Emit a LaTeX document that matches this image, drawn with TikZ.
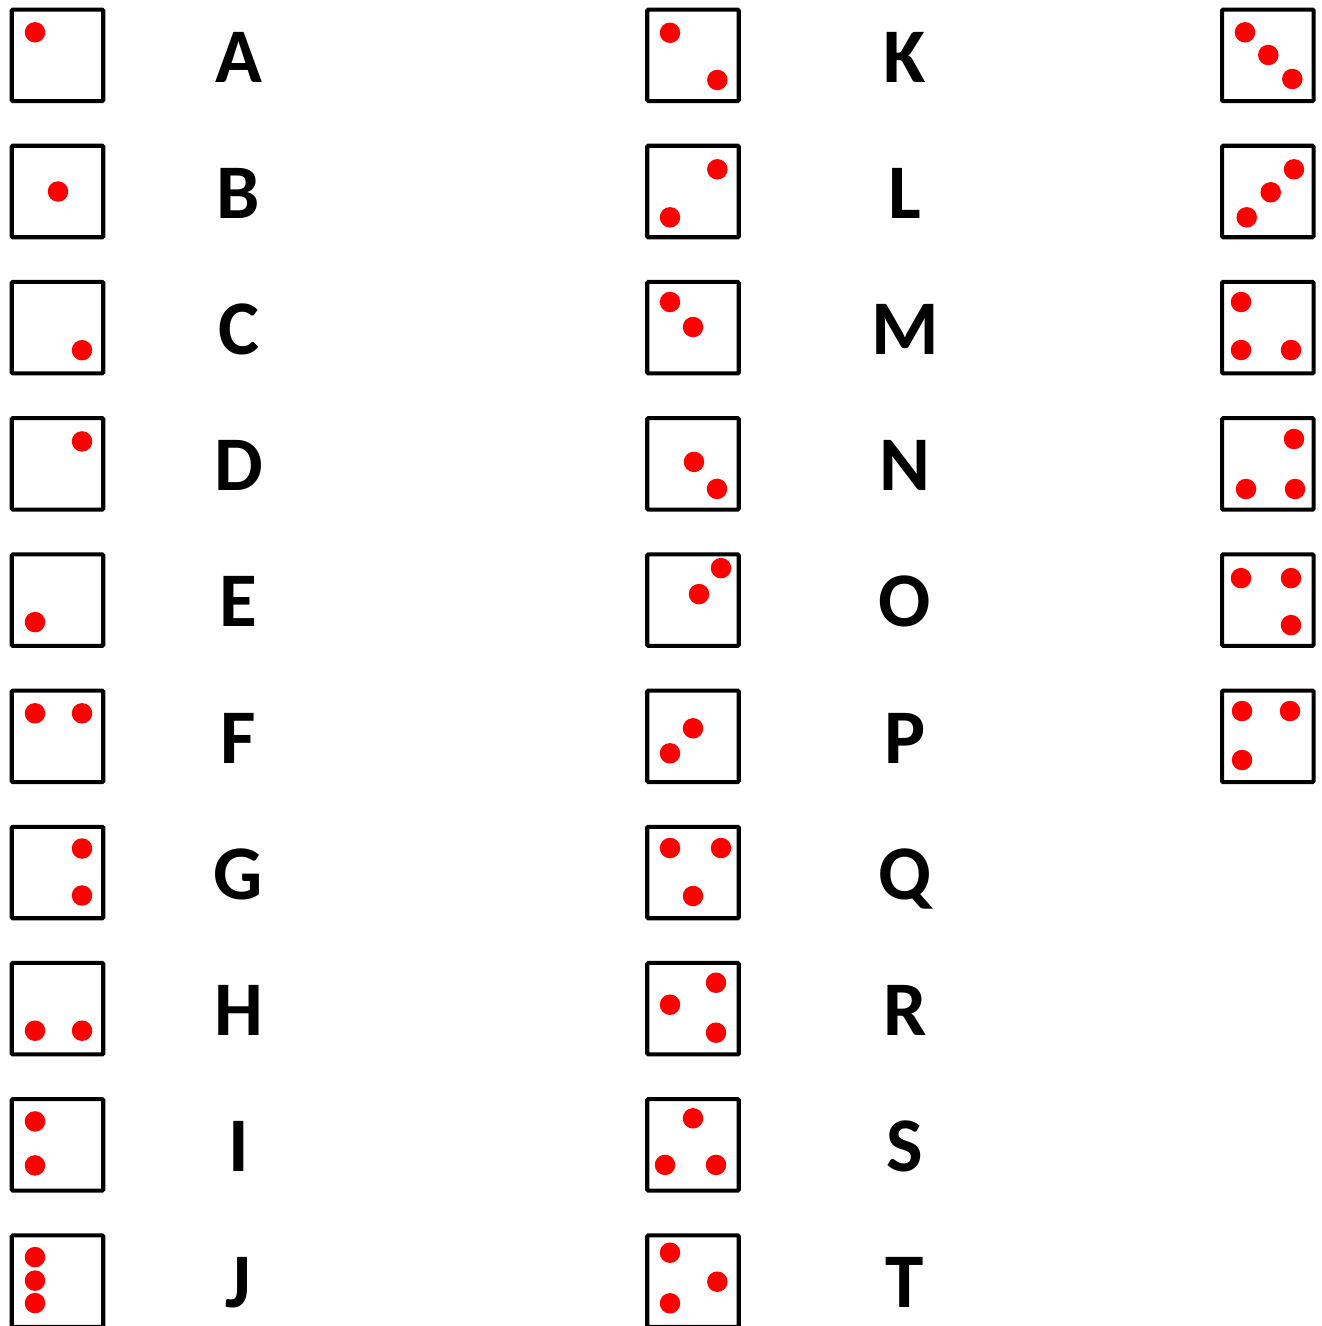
\documentclass[tikz,border=0pt]{standalone}
\usepackage{fontspec}
\setsansfont{Carlito}
\usetikzlibrary{calc}
\definecolor{cPip}{HTML}{FF0000}
\tikzset{
  tile/.style={
    draw=black, line width=2.3pt,
    rounded corners=0.6pt,
    minimum size=1.83cm,
    inner sep=0pt
  },
  pip/.style={
    circle, fill=cPip,
    inner sep=0pt,
    minimum size=0.41cm
  },
  letter/.style={
    font=\sffamily\bfseries\fontsize{44}{50}\selectfont,
    anchor=base,
    inner sep=0pt
  }
}
% pips of a tile, offsets in px from its centre
\newcommand{\pips}[2]{%
  \foreach \dx/\dy [count=\k] in {#2}
    \node[pip] (#1-\k) at ($(#1)+(\dx,\dy)$) {};%
}

\begin{document}
\begin{tikzpicture}[x=0.02cm, y=-0.02cm]
  \useasboundingbox (0,0) rectangle (1322,1326);

  % left column
  \node[tile] (tA) at (57.5,55.3) {};   \pips{tA}{-22.5/-23}
  \node[tile] (tB) at (57.5,191.5) {};  \pips{tB}{0.5/0}
  \node[tile] (tC) at (57.5,327.7) {};  \pips{tC}{24.5/22.5}
  \node[tile] (tD) at (57.5,463.9) {};  \pips{tD}{24.5/-22.5}
  \node[tile] (tE) at (57.5,600.1) {};  \pips{tE}{-22.5/22}
  \node[tile] (tF) at (57.5,736.3) {};  \pips{tF}{-22.5/-23, 24.5/-23}
  \node[tile] (tG) at (57.5,872.5) {};  \pips{tG}{24.5/-24, 24.5/23}
  \node[tile] (tH) at (57.5,1008.7) {}; \pips{tH}{-22.5/22, 24.5/22}
  \node[tile] (tI) at (57.5,1144.9) {}; \pips{tI}{-22.5/-23.5, -22.5/20.5}
  \node[tile] (tJ) at (57.5,1281.1) {}; \pips{tJ}{-22.5/-24, -22.5/-0.5, -22.5/22}

  \node[letter] (lA) at (238.5,82) {A};
  \node[letter] (lB) at (238.5,218.2) {B};
  \node[letter] (lC) at (238.5,354.4) {C};
  \node[letter] (lD) at (238.5,490.6) {D};
  \node[letter] (lE) at (238.5,626.8) {E};
  \node[letter] (lF) at (238.5,763) {F};
  \node[letter] (lG) at (238.5,899.2) {G};
  \node[letter] (lH) at (238.5,1035.4) {H};
  \node[letter] (lI) at (238.5,1171.6) {I};
  \node[letter] (lJ) at (238.5,1307.8) {J};

  % middle column
  \node[tile] (tK) at (693,55.3) {};   \pips{tK}{-23/-22.5, 24.3/24.7}
  \node[tile] (tL) at (693,191.5) {};  \pips{tL}{24.3/-22.2, -23/25.8}
  \node[tile] (tM) at (693,327.7) {};  \pips{tM}{-23/-25.7, 0/-0.7}
  \node[tile] (tN) at (693,463.9) {};  \pips{tN}{1/-2, 24/25}
  \node[tile] (tO) at (693,600.1) {};  \pips{tO}{28/-32, 6/-6}
  \node[tile] (tP) at (693,736.3) {};  \pips{tP}{0/-8, -23/17}
  \node[tile] (tQ) at (693,872.5) {};  \pips{tQ}{-23/-24.5, 28/-24.5, 0/23.5}
  \node[tile] (tR) at (693,1008.7) {}; \pips{tR}{23/-26, -23/-4, 23/24}
  \node[tile] (tS) at (693,1144.9) {}; \pips{tS}{0/-26.6, -28/20, 23/20}
  \node[tile] (tT) at (693,1281.1) {}; \pips{tT}{-23/-28.4, 24.3/0.6, -23/22.2}

  \node[letter] (lK) at (905,82) {K};
  \node[letter] (lL) at (905,218.2) {L};
  \node[letter] (lM) at (905,354.4) {M};
  \node[letter] (lN) at (905,490.6) {N};
  \node[letter] (lO) at (905,626.8) {O};
  \node[letter] (lP) at (905,763) {P};
  \node[letter] (lQ) at (905,899.2) {Q};
  \node[letter] (lR) at (905,1035.4) {R};
  \node[letter] (lS) at (905,1171.6) {S};
  \node[letter] (lT) at (905,1307.8) {T};

  % right column
  \node[tile] (r1) at (1267.8,55.3) {};  \pips{r1}{-22.8/-23, 0.5/-0.3, 24.5/23.7}
  \node[tile] (r2) at (1267.8,191.5) {}; \pips{r2}{26.2/-22.2, 2.9/0.8, -21.1/25.8}
  \node[tile] (r3) at (1267.8,327.7) {}; \pips{r3}{-26.8/-25.7, -26.8/22.3, 23.2/22.3}
  \node[tile] (r4) at (1267.8,463.9) {}; \pips{r4}{26.2/-24.9, -21.8/25.1, 27.2/25.1}
  \node[tile] (r5) at (1267.8,600.1) {}; \pips{r5}{-26.8/-22, 23.2/-22, 23.2/25}
  \node[tile] (r6) at (1267.8,736.3) {}; \pips{r6}{-25.8/-25.3, 22.2/-25.3, -25.8/23.7}
\end{tikzpicture}
\end{document}
